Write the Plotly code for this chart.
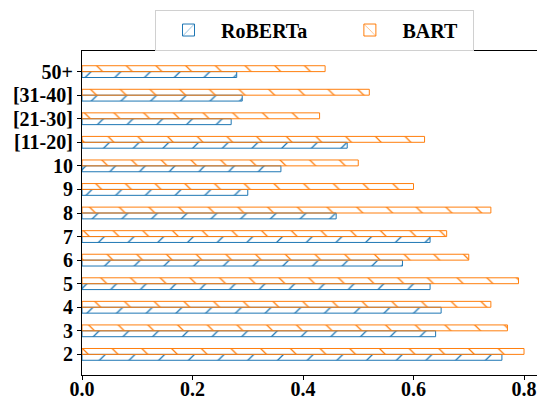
import plotly.graph_objects as go

categories = ["2", "3", "4", "5", "6", "7", "8", "9", "10", "[11-20]", "[21-30]", "[31-40]", "50+"]
roberta = [0.76, 0.64, 0.65, 0.63, 0.58, 0.63, 0.46, 0.30, 0.36, 0.48, 0.27, 0.29, 0.28]
bart = [0.80, 0.77, 0.74, 0.79, 0.70, 0.66, 0.74, 0.60, 0.50, 0.62, 0.43, 0.52, 0.44]
x_ticks = [0.0, 0.2, 0.4, 0.6, 0.8]
x_tick_labels = ["0.0", "0.2", "0.4", "0.6", "0.8"]

BLUE = "#1f77b4"
ORANGE = "#ff7f0e"
FONT = "'Liberation Serif', 'Times New Roman', Times, 'DejaVu Serif', serif"
FS = 20

fig = go.Figure()
fig.add_trace(go.Bar(
    y=categories, x=roberta, orientation="h", name="<b>RoBERTa</b>" + "&nbsp;" * 5,
    marker=dict(color=BLUE, line=dict(color=BLUE, width=1),
                pattern=dict(shape="/", size=21, solidity=0.06, fillmode="replace")),
))
fig.add_trace(go.Bar(
    y=categories, x=bart, orientation="h", name="<b>BART</b>" + "&nbsp;" * 2,
    marker=dict(color=ORANGE, line=dict(color=ORANGE, width=1),
                pattern=dict(shape="\\", size=21, solidity=0.06, fillmode="replace")),
))

fig.update_layout(
    width=537, height=399,
    margin=dict(l=82, r=0, t=51, b=24, autoexpand=False),
    paper_bgcolor="white", plot_bgcolor="white",
    barmode="group", bargap=0.5, bargroupgap=0,
    font=dict(family=FONT, size=FS, color="black"),
    showlegend=True,
    legend=dict(
        orientation="h", x=0.511, xanchor="center", y=1.128, yanchor="top",
        bordercolor="#d0d0d0", borderwidth=1, bgcolor="white",
        font=dict(family=FONT, size=FS, color="black"),
        traceorder="normal", itemwidth=55,
    ),
    xaxis=dict(
        range=[0, 0.8235], tickvals=x_ticks, ticktext=["<b>" + t + "</b>" for t in x_tick_labels],
        showgrid=False, zeroline=False, showline=True, linecolor="black", linewidth=1.2,
        mirror=True, ticks="outside", ticklen=4, tickwidth=1, tickcolor="black",
        tickfont=dict(family=FONT, size=FS, color="black"), automargin=False,
        ticklabelstandoff=-8,
    ),
    yaxis=dict(
        type="category", categoryorder="array", categoryarray=categories,
        tickmode="array", tickvals=categories, ticktext=["<b>" + c + "</b>" for c in categories],
        range=[-0.875, 12.875],
        showgrid=False, zeroline=False, showline=True, linecolor="black", linewidth=1.2,
        mirror=False, ticks="outside", ticklen=4, tickwidth=1, tickcolor="black",
        tickfont=dict(family=FONT, size=FS, color="black"), automargin=False,
    ),
)

fig.write_html(
    "out.html",
    config={"displayModeBar": False},
    post_script="document.body.style.margin='0';document.body.style.overflow='hidden';",
)
